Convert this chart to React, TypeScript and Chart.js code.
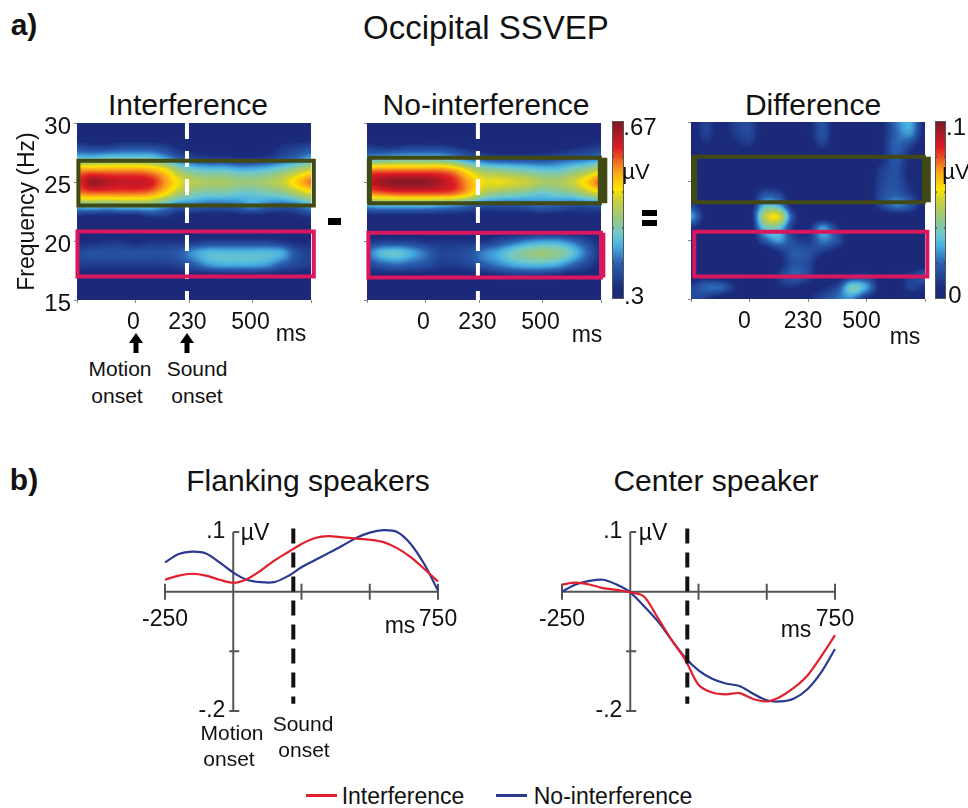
import React, { useEffect, useRef } from "react";
import { Chart, registerables } from "chart.js";

Chart.register(...registerables);

const FONT = '"Liberation Sans", Arial, sans-serif';
const INK = "#111";

// ---- heat-map data: rows 30..15 Hz, columns -250..750 ms
const gridFreqs = [30, 29, 28, 27, 26, 25, 24, 23, 22, 21, 20, 19, 18, 17, 16, 15];
const gridTimes = [-250, -187.5, -125, -62.5, 0, 62.5, 125, 187.5, 250, 312.5, 375, 437.5, 500, 562.5, 625, 687.5, 750];

// hundredths of a microvolt
const interferenceGrid = [
  [30, 30, 30, 30, 30, 30, 30, 30, 30, 30, 30, 30, 30, 30, 30, 30, 30],
  [30, 30, 30, 30, 30, 30, 30, 30, 30, 30, 30, 30, 30, 30, 30, 30, 30],
  [35, 34, 34, 35, 35, 35, 34, 32, 31, 30, 30, 30, 30, 31, 33, 34, 35],
  [43, 43, 44, 44, 44, 44, 41, 37, 35, 34, 34, 33, 33, 34, 36, 38, 41],
  [57, 57, 57, 57, 57, 56, 53, 47, 44, 43, 43, 42, 42, 43, 45, 48, 51],
  [60, 65, 64, 63, 63, 62, 57, 52, 49, 48, 48, 47, 47, 48, 50, 54, 58],
  [57, 58, 58, 58, 58, 57, 53, 48, 45, 44, 44, 43, 43, 44, 45, 48, 51],
  [43, 44, 43, 44, 44, 44, 41, 38, 38, 37, 37, 38, 40, 38, 37, 38, 41],
  [32, 31, 31, 31, 31, 33, 33, 31, 31, 31, 31, 31, 31, 31, 31, 32, 33],
  [30, 30, 30, 30, 30, 30, 30, 30, 30, 30, 30, 30, 30, 30, 30, 30, 30],
  [32, 32, 33, 33, 32, 33, 33, 33, 33, 34, 34, 34, 34, 34, 33, 32, 32],
  [35, 36, 36, 36, 36, 36, 36, 37, 40, 42, 42, 42, 42, 42, 41, 36, 34],
  [34, 34, 34, 34, 34, 34, 34, 35, 37, 40, 41, 41, 41, 40, 37, 35, 34],
  [31, 31, 31, 31, 31, 31, 31, 31, 31, 31, 31, 31, 31, 31, 31, 31, 31],
  [30, 30, 30, 30, 30, 30, 30, 30, 30, 30, 30, 30, 30, 30, 30, 30, 30],
  [30, 30, 30, 30, 30, 30, 30, 30, 30, 30, 30, 30, 30, 30, 30, 30, 30],
];

const noInterferenceGrid = [
  [30, 30, 30, 30, 30, 30, 30, 30, 30, 30, 30, 30, 30, 30, 30, 30, 30],
  [30, 30, 30, 30, 30, 30, 30, 30, 30, 30, 30, 30, 30, 30, 30, 30, 30],
  [34, 33, 33, 34, 34, 34, 33, 32, 31, 30, 30, 30, 31, 31, 32, 33, 34],
  [41, 42, 43, 43, 43, 43, 41, 38, 36, 35, 35, 35, 35, 36, 37, 38, 39],
  [58, 58, 58, 58, 58, 58, 56, 51, 47, 46, 45, 44, 43, 43, 45, 47, 51],
  [62, 65, 66, 66, 66, 64, 61, 56, 52, 52, 51, 50, 48, 48, 50, 54, 59],
  [57, 58, 59, 59, 59, 59, 58, 54, 48, 46, 45, 44, 43, 44, 45, 48, 51],
  [41, 42, 42, 42, 42, 41, 40, 38, 36, 36, 36, 37, 38, 37, 36, 36, 37],
  [31, 31, 31, 31, 31, 31, 31, 31, 31, 31, 31, 31, 31, 31, 31, 32, 31],
  [30, 30, 30, 30, 30, 30, 30, 30, 30, 30, 30, 30, 30, 30, 30, 30, 30],
  [33, 34, 34, 34, 33, 33, 33, 33, 33, 35, 37, 39, 40, 40, 38, 35, 32],
  [38, 42, 43, 41, 38, 35, 35, 36, 39, 41, 44, 46, 47, 46, 43, 38, 33],
  [35, 37, 38, 37, 36, 34, 34, 35, 37, 39, 41, 42, 42, 41, 38, 35, 32],
  [31, 31, 31, 31, 31, 31, 31, 31, 31, 32, 33, 33, 33, 32, 31, 31, 30],
  [30, 30, 30, 30, 30, 30, 30, 30, 30, 30, 30, 30, 30, 30, 30, 30, 30],
  [30, 30, 30, 30, 30, 30, 30, 30, 30, 30, 30, 30, 30, 30, 30, 30, 30],
];

// thousandths of a microvolt
const differenceGrid = [
  [0, 12, 3, 11, 14, 0, 0, 0, 3, 16, 0, 0, 0, 4, 22, 30, 4],
  [0, 12, 3, 10, 14, 0, 0, 0, 3, 16, 0, 0, 0, 4, 20, 26, 3],
  [0, 6, 1, 5, 8, 0, 0, 0, 1, 10, 0, 0, 0, 5, 20, 12, 0],
  [0, 0, 0, 0, 0, 0, 0, 0, 0, 0, 0, 0, 0, 5, 18, 6, 0],
  [0, 0, 0, 0, 0, 0, 0, 0, 0, 0, 0, 0, 0, 10, 16, 4, 0],
  [3, 0, 0, 0, 0, 0, 0, 0, 0, 0, 0, 0, 0, 12, 16, 6, 0],
  [4, 0, 0, 0, 0, 14, 12, 0, 0, 0, 0, 0, 0, 14, 18, 10, 1],
  [12, 0, 0, 0, 0, 30, 28, 2, 0, 0, 0, 0, 0, 14, 24, 18, 2],
  [28, 5, 0, 0, 0, 50, 58, 14, 0, 0, 0, 0, 0, 0, 2, 2, 0],
  [8, 0, 0, 0, 0, 35, 36, 8, 6, 28, 10, 0, 0, 0, 0, 0, 0],
  [0, 0, 0, 0, 0, 18, 28, 14, 10, 24, 16, 0, 0, 0, 0, 0, 0],
  [0, 0, 0, 0, 0, 0, 8, 18, 16, 10, 4, 0, 0, 0, 0, 0, 0],
  [0, 0, 0, 0, 0, 0, 4, 16, 14, 0, 0, 0, 0, 0, 0, 0, 0],
  [0, 3, 0, 0, 0, 0, 10, 20, 14, 0, 0, 8, 10, 0, 4, 10, 18],
  [12, 20, 20, 8, 0, 0, 6, 8, 4, 6, 14, 38, 28, 4, 0, 12, 8],
  [14, 10, 2, 0, 0, 0, 0, 0, 6, 14, 22, 25, 8, 0, 0, 0, 0],
];

// ---- time-course data
const courseTimes = [-250, -200, -150, -100, -50, 0, 50, 100, 150, 200, 250, 300, 350, 400, 450, 500, 550, 600, 650, 700, 750];
const flankingInterference = [0.020, 0.027, 0.030, 0.027, 0.020, 0.015, 0.021, 0.035, 0.052, 0.066, 0.080, 0.090, 0.093, 0.091, 0.089, 0.087, 0.083, 0.073, 0.058, 0.038, 0.017];
const flankingNoInterference = [0.049, 0.063, 0.067, 0.064, 0.049, 0.032, 0.020, 0.016, 0.016, 0.026, 0.041, 0.053, 0.065, 0.077, 0.090, 0.099, 0.103, 0.100, 0.080, 0.046, 0.002];
const centerInterference = [0.012, 0.015, 0.012, 0.006, 0.003, -0.001, -0.008, -0.043, -0.080, -0.113, -0.156, -0.169, -0.172, -0.170, -0.180, -0.184, -0.176, -0.161, -0.140, -0.108, -0.073];
const centerNoInterference = [0.000, 0.012, 0.018, 0.020, 0.012, -0.001, -0.024, -0.049, -0.080, -0.110, -0.132, -0.146, -0.154, -0.158, -0.171, -0.182, -0.184, -0.179, -0.163, -0.135, -0.096];

// ---- axis labels
const heatTicks = [-250, 0, 230, 500, 750];
const heatTickTexts = ["", "0", "230", "500", ""];
const diffTicks = [-250, 0, 250, 500, 750];
const freqTicks = [15, 20, 25, 30];
const courseXLabels: Record<string, string> = { "-250": "-250", "750": "750" };
const courseYLabels: Record<string, string> = { "0.1": ".1", "-0.2": "-.2" };

const colorStops: [number, number[]][] = [
  [0.0, [27, 41, 120]],
  [0.06, [27, 43, 124]],
  [0.2, [42, 95, 176]],
  [0.3, [72, 176, 226]],
  [0.36, [108, 200, 205]],
  [0.45, [150, 200, 130]],
  [0.55, [200, 208, 60]],
  [0.62, [255, 228, 0]],
  [0.72, [248, 160, 30]],
  [0.85, [224, 26, 36]],
  [1.0, [122, 24, 36]],
];

function colorAt(t: number): number[] {
  const v = Math.max(0, Math.min(1, t));
  for (let i = 1; i < colorStops.length; i++) {
    if (v <= colorStops[i][0]) {
      const [a, ca] = colorStops[i - 1];
      const [b, cb] = colorStops[i];
      const f = (v - a) / (b - a);
      return ca.map((c, k) => c + (cb[k] - c) * f);
    }
  }
  return colorStops[colorStops.length - 1][1];
}

function cubic(p0: number, p1: number, p2: number, p3: number, t: number) {
  return 0.5 * (2 * p1 + (p2 - p0) * t + (2 * p0 - 5 * p1 + 4 * p2 - p3) * t * t + (3 * p1 - p0 - 3 * p2 + p3) * t * t * t);
}

const zeroMargins = (s: any) => {
  s.paddingLeft = 0;
  s.paddingRight = 0;
  s.paddingTop = 0;
  s.paddingBottom = 0;
};

const heatPlugin = {
  id: "heat",
  beforeDatasetsDraw(chart: any, _a: any, opts: any) {
    if (!opts.grid) return;
    const { left, right, top, bottom } = chart.chartArea;
    const w = Math.round(right - left);
    const h = Math.round(bottom - top);
    const off = document.createElement("canvas");
    off.width = w;
    off.height = h;
    const octx = off.getContext("2d")!;
    const img = octx.createImageData(w, h);
    const g: number[][] = opts.grid;
    const R = g.length;
    const C = g[0].length;
    const at = (r: number, c: number) => g[Math.max(0, Math.min(R - 1, r))][Math.max(0, Math.min(C - 1, c))];
    const dt = gridTimes[1] - gridTimes[0];
    const df = gridFreqs[0] - gridFreqs[1];
    for (let py = 0; py < h; py++) {
      const freq = chart.scales.y.getValueForPixel(top + py + 0.5);
      const ry = (gridFreqs[0] - freq) / df;
      const r0 = Math.floor(ry);
      const fy = ry - r0;
      for (let px = 0; px < w; px++) {
        const ms = chart.scales.x.getValueForPixel(left + px + 0.5);
        const rx = (ms - gridTimes[0]) / dt;
        const c0 = Math.floor(rx);
        const fx = rx - c0;
        const col = [-1, 0, 1, 2].map((dr) =>
          cubic(at(r0 + dr, c0 - 1), at(r0 + dr, c0), at(r0 + dr, c0 + 1), at(r0 + dr, c0 + 2), fx)
        );
        const val = cubic(col[0], col[1], col[2], col[3], fy);
        const rgb = colorAt((val / opts.unit - opts.min) / (opts.max - opts.min));
        const i = (py * w + px) * 4;
        img.data[i] = rgb[0];
        img.data[i + 1] = rgb[1];
        img.data[i + 2] = rgb[2];
        img.data[i + 3] = 255;
      }
    }
    octx.putImageData(img, 0, 0);
    chart.ctx.drawImage(off, left, top);
  },
};

const crossAxesPlugin = {
  id: "crossAxes",
  beforeDatasetsDraw(chart: any, _a: any, opts: any) {
    if (!opts.on) return;
    const { x, y } = chart.scales;
    const c = chart.ctx;
    const x0 = x.getPixelForValue(0);
    const y0 = y.getPixelForValue(0);
    c.save();
    c.strokeStyle = "#555";
    c.lineWidth = 2;
    c.beginPath();
    c.moveTo(x.left, y0);
    c.lineTo(x.right, y0);
    c.moveTo(x0, y.top);
    c.lineTo(x0, y.bottom);
    x.ticks.forEach((t: any) => {
      const p = x.getPixelForValue(t.value);
      c.moveTo(p, y0 - 8);
      c.lineTo(p, y0 + 8);
    });
    y.ticks.forEach((t: any) => {
      if (Math.abs(t.value) < 1e-6) return;
      const p = y.getPixelForValue(t.value);
      c.moveTo(x0 - (t.value > 0 ? 0 : 4), p);
      c.lineTo(x0 + 6, p);
    });
    c.stroke();
    c.restore();
  },
};

const barMarksPlugin = {
  id: "barMarks",
  afterDatasetsDraw(chart: any) {
    const y = chart.scales.y;
    const a = chart.chartArea;
    const c = chart.ctx;
    c.save();
    c.fillStyle = "rgba(40,40,40,0.55)";
    for (let k = 1; k < 5; k++) {
      const p = y.getPixelForValue(y.min + ((y.max - y.min) * k) / 5);
      c.fillRect(a.left, p - 1, 2, 2);
      c.fillRect(a.right - 2, p - 1, 2, 2);
    }
    c.restore();
  },
};

function lineDs(points: number[][], color: string, width: number, dash?: number[]) {
  return {
    data: points.map(([x, y]) => ({ x, y })),
    showLine: true,
    borderColor: color,
    backgroundColor: color,
    borderWidth: width,
    borderDash: dash || [],
    pointRadius: 0,
    tension: 0,
    clip: false as any,
    borderCapStyle: "butt" as const,
  };
}

function box(x0: number, x1: number, y0: number, y1: number) {
  return [[x0, y0], [x1, y0], [x1, y1], [x0, y1], [x0, y0], [x1, y0]];
}

const OLIVE = "#414a14";
const PINK = "#d8175f";

type HeatSpec = {
  box: number[];
  title?: string;
  yLabels: boolean;
  grid: number[][];
  unit: number;
  min: number;
  max: number;
  ticks: number[];
  labelOffset: number;
  extra: any[];
};

function HeatPanel({ spec }: { spec: HeatSpec }) {
  const ref = useRef<HTMLCanvasElement>(null);
  useEffect(() => {
    const [L, T, W, H, left, top, right, bottom] = spec.box;
    const chart = new Chart(ref.current!, {
      type: "scatter",
      data: { datasets: spec.extra },
      plugins: [heatPlugin],
      options: {
        animation: false,
        responsive: false,
        events: [],
        layout: { padding: { top: top - T, right: L + W - right, left: 0, bottom: 0 } },
        plugins: {
          legend: { display: false },
          tooltip: { enabled: false },
          heat: { grid: spec.grid, unit: spec.unit, min: spec.min, max: spec.max },
        } as any,
        scales: {
          x: {
            type: "linear",
            min: -250,
            max: 750,
            afterFit: (s: any) => { s.height = T + H - bottom; zeroMargins(s); },
            afterBuildTicks: (s: any) => { s.ticks = spec.ticks.map((v) => ({ value: v })); },
            grid: { display: true, drawOnChartArea: false, tickLength: 3, color: "#888" },
            border: { display: false },
            ticks: {
              autoSkip: false,
              maxRotation: 0,
              padding: 6,
              color: INK,
              font: { family: FONT, size: 23 },
              labelOffset: spec.labelOffset,
              callback: (_v: any, i: number) => heatTickTexts[i],
            },
          },
          y: {
            type: "linear",
            min: 15,
            max: 30,
            afterFit: (s: any) => { s.width = left - L; zeroMargins(s); },
            afterBuildTicks: (s: any) => { s.ticks = freqTicks.map((v) => ({ value: v })); },
            grid: { display: true, drawOnChartArea: false, tickLength: 3, color: "#888" },
            border: { display: false },
            title: spec.yLabels
              ? { display: true, text: "Frequency (Hz)", color: INK, font: { family: FONT, size: 23 }, padding: { top: 14, bottom: 0 } }
              : { display: false },
            ticks: {
              autoSkip: false,
              padding: 3,
              color: INK,
              labelOffset: 4,
              font: { family: FONT, size: 24 },
              callback: (v: any) => (spec.yLabels ? String(v) : ""),
            },
          },
        },
      } as any,
    });
    return () => chart.destroy();
  }, []);
  const [L, T, W, H] = spec.box;
  return <canvas ref={ref} width={W} height={H} style={{ position: "absolute", left: L, top: T, width: W, height: H }} />;
}

function ColorBar({ left, top, width, height, min, max }: { left: number; top: number; width: number; height: number; min: number; max: number }) {
  const ref = useRef<HTMLCanvasElement>(null);
  useEffect(() => {
    const chart = new Chart(ref.current!, {
      type: "bar",
      data: {
        labels: ["scale"],
        datasets: [
          {
            data: [[min, max]],
            barPercentage: 1,
            categoryPercentage: 1,
            backgroundColor: (ctx: any) => {
              const area = ctx.chart.chartArea;
              if (!area) return "#000";
              const g = ctx.chart.ctx.createLinearGradient(0, area.bottom, 0, area.top);
              colorStops.forEach(([t, c]) => g.addColorStop(t, `rgb(${c.join(",")})`));
              return g;
            },
          } as any,
        ],
      },
      plugins: [barMarksPlugin],
      options: {
        animation: false,
        responsive: false,
        events: [],
        layout: { padding: 0 },
        plugins: { legend: { display: false }, tooltip: { enabled: false } },
        scales: {
          x: { display: false },
          y: { display: false, min, max },
        },
      } as any,
    });
    return () => chart.destroy();
  }, []);
  return <canvas ref={ref} width={width} height={height} style={{ position: "absolute", left, top, width, height, outline: "1px solid #555", outlineOffset: "-1px" }} />;
}

function CoursePanel({ L, T, W, H, pad, a, b, dashAt }: { L: number; T: number; W: number; H: number; pad: any; a: number[]; b: number[]; dashAt: number }) {
  const ref = useRef<HTMLCanvasElement>(null);
  useEffect(() => {
    const chart = new Chart(ref.current!, {
      type: "scatter",
      data: {
        datasets: [
          {
            data: courseTimes.map((t, i) => ({ x: t, y: b[i] })),
            showLine: true,
            borderColor: "#2b3990",
            borderWidth: 2.2,
            pointRadius: 0,
            tension: 0.3,
            clip: false,
            order: 2,
          } as any,
          {
            data: courseTimes.map((t, i) => ({ x: t, y: a[i] })),
            showLine: true,
            borderColor: "#e0202e",
            borderWidth: 2.2,
            pointRadius: 0,
            tension: 0.3,
            clip: false,
            order: 1,
          } as any,
          { ...lineDs([[dashAt, 0.106], [dashAt, -0.188]], "#111", 4, [15, 9]), order: 0 } as any,
        ],
      },
      plugins: [crossAxesPlugin],
      options: {
        animation: false,
        responsive: false,
        events: [],
        layout: { padding: pad },
        plugins: { legend: { display: false }, tooltip: { enabled: false }, crossAxes: { on: true } } as any,
        scales: {
          x: {
            type: "linear",
            min: -250,
            max: 750,
            position: { y: 0 },
            grid: { display: false },
            border: { display: false },
            afterFit: zeroMargins,
            afterBuildTicks: (s: any) => { s.ticks = [-250, 0, 250, 500, 750].map((v) => ({ value: v })); },
            ticks: {
              autoSkip: false,
              maxRotation: 0,
              padding: 6,
              color: INK,
              font: { family: FONT, size: 23 },
              callback: (v: any) => courseXLabels[String(v)] || "",
            },
          },
          y: {
            type: "linear",
            min: -0.2,
            max: 0.1,
            position: { x: -29 },
            grid: { display: false },
            border: { display: false },
            afterFit: zeroMargins,
            afterBuildTicks: (s: any) => { s.ticks = [-0.2, -0.1, 0, 0.1].map((v) => ({ value: v })); },
            ticks: {
              autoSkip: false,
              padding: 0,
              color: INK,
              font: { family: FONT, size: 23 },
              callback: (v: any) => courseYLabels[String(v)] || "",
            },
          },
        },
      } as any,
    });
    return () => chart.destroy();
  }, []);
  return <canvas ref={ref} width={W} height={H} style={{ position: "absolute", left: L, top: T, width: W, height: H }} />;
}

function Txt({ x, y, size = 21, bold, children }: { x: number; y: number; size?: number; bold?: boolean; children: React.ReactNode }) {
  return (
    <div
      style={{
        position: "absolute",
        left: x,
        top: y,
        transform: "translate(-50%,-50%)",
        fontFamily: FONT,
        fontSize: size,
        fontWeight: bold ? 700 : 400,
        color: INK,
        whiteSpace: "nowrap",
        lineHeight: 1,
      }}
    >
      {children}
    </div>
  );
}

function Bar({ x, y, w, h, c = "#000" }: { x: number; y: number; w: number; h: number; c?: string }) {
  return <div style={{ position: "absolute", left: x, top: y, width: w, height: h, background: c }} />;
}

function Arrow({ x, y }: { x: number; y: number }) {
  return (
    <svg width={16} height={20} style={{ position: "absolute", left: x - 8, top: y }}>
      <path d="M8 0 L15 10 L10.5 10 L10.5 20 L5.5 20 L5.5 10 L1 10 Z" fill="#000" />
    </svg>
  );
}

const panels: HeatSpec[] = [
  {
    box: [0, 115, 330, 215, 77, 123, 311, 300],
    yLabels: true,
    grid: interferenceGrid,
    unit: 100,
    min: 0.3,
    max: 0.67,
    ticks: heatTicks,
    labelOffset: -2,
    extra: [
      lineDs(box(-244, 762, 26.8, 23), OLIVE, 4),
      lineDs(box(-248, 762, 20.8, 17), PINK, 4),
      lineDs([[220, 30], [220, 15]], "#fff", 4, [16, 12]),
    ],
  },
  {
    box: [340, 115, 275, 215, 367, 123, 601, 300],
    yLabels: false,
    grid: noInterferenceGrid,
    unit: 100,
    min: 0.3,
    max: 0.67,
    ticks: heatTicks,
    labelOffset: -2,
    extra: [
      lineDs(box(-240, 745, 27.05, 23.2), OLIVE, 4),
      lineDs([[762, 27.05], [762, 23.2]], OLIVE, 7),
      lineDs([[-240, 27.05], [-240, 23.2]], OLIVE, 5),
      lineDs(box(-244, 750, 20.7, 16.9), PINK, 4),
      lineDs([[758, 20.7], [758, 16.9]], PINK, 5),
      lineDs([[224, 30], [224, 15]], "#fff", 4, [16, 12]),
    ],
  },
  {
    box: [665, 115, 275, 215, 691, 122, 925, 299],
    yLabels: false,
    grid: differenceGrid,
    unit: 1000,
    min: 0,
    max: 0.1,
    ticks: diffTicks,
    labelOffset: -5,
    extra: [
      lineDs(box(-236, 745, 27.05, 23.2), OLIVE, 4),
      lineDs([[-236, 27.05], [-236, 23.2]], OLIVE, 6),
      lineDs([[762, 27.05], [762, 23.2]], OLIVE, 6),
      lineDs(box(-236, 760, 20.7, 16.9), PINK, 4),
    ],
  },
];

export default function App() {
  return (
    <div style={{ position: "absolute", left: 0, top: 0, width: 968, height: 808, background: "#fff", overflow: "hidden", filter: "blur(0.4px)" }}>
      <Txt x={24} y={25} size={30} bold>a)</Txt>
      <Txt x={24} y={480} size={30} bold>b)</Txt>
      <Txt x={486} y={27} size={33}>Occipital SSVEP</Txt>
      <Txt x={188} y={105} size={30}>Interference</Txt>
      <Txt x={486} y={105} size={30}>No-interference</Txt>
      <Txt x={813} y={105} size={30}>Difference</Txt>

      {panels.map((p, i) => <HeatPanel key={i} spec={p} />)}

      <ColorBar left={612} top={121} width={12} height={178} min={0.3} max={0.67} />
      <ColorBar left={935} top={121} width={11} height={178} min={0} max={0.1} />
      <Txt x={640} y={127} size={24}>.67</Txt>
      <Txt x={636} y={172} size={22}>µV</Txt>
      <Txt x={634} y={296} size={24}>.3</Txt>
      <Txt x={956} y={127} size={24}>.1</Txt>
      <Txt x={956} y={172} size={22}>µV</Txt>
      <Txt x={955} y={295} size={24}>0</Txt>

      <Bar x={328} y={218} w={13} h={7} />
      <Bar x={642} y={210} w={15} h={6} />
      <Bar x={642} y={220} w={15} h={6} />

      <Txt x={291} y={333} size={23}>ms</Txt>
      <Txt x={587} y={334} size={23}>ms</Txt>
      <Txt x={905} y={336} size={23}>ms</Txt>
      <Arrow x={136} y={333} />
      <Arrow x={187} y={333} />
      <Txt x={120} y={368}>Motion</Txt>
      <Txt x={117} y={395}>onset</Txt>
      <Txt x={197} y={368}>Sound</Txt>
      <Txt x={197} y={395}>onset</Txt>

      <Txt x={308} y={481} size={30}>Flanking speakers</Txt>
      <Txt x={716} y={481} size={30}>Center speaker</Txt>

      <CoursePanel L={120} T={510} W={340} H={230} pad={{ left: 45, right: 22, top: 22, bottom: 29 }} a={flankingInterference} b={flankingNoInterference} dashAt={220} />
      <CoursePanel L={510} T={510} W={350} H={230} pad={{ left: 52, right: 25, top: 22, bottom: 29 }} a={centerInterference} b={centerNoInterference} dashAt={209} />

      <Txt x={255} y={532} size={23}>µV</Txt>
      <Txt x={400} y={625} size={23}>ms</Txt>
      <Txt x={232} y={732}>Motion</Txt>
      <Txt x={229} y={758}>onset</Txt>
      <Txt x={303} y={723}>Sound</Txt>
      <Txt x={304} y={749}>onset</Txt>
      <Txt x={653} y={532} size={23}>µV</Txt>
      <Txt x={796} y={629} size={23}>ms</Txt>

      <Bar x={306} y={794} w={31} h={3} c="#e0202e" />
      <Txt x={403} y={796} size={23}>Interference</Txt>
      <Bar x={496} y={794} w={31} h={3} c="#2b3990" />
      <Txt x={613} y={796} size={23}>No-interference</Txt>
    </div>
  );
}
